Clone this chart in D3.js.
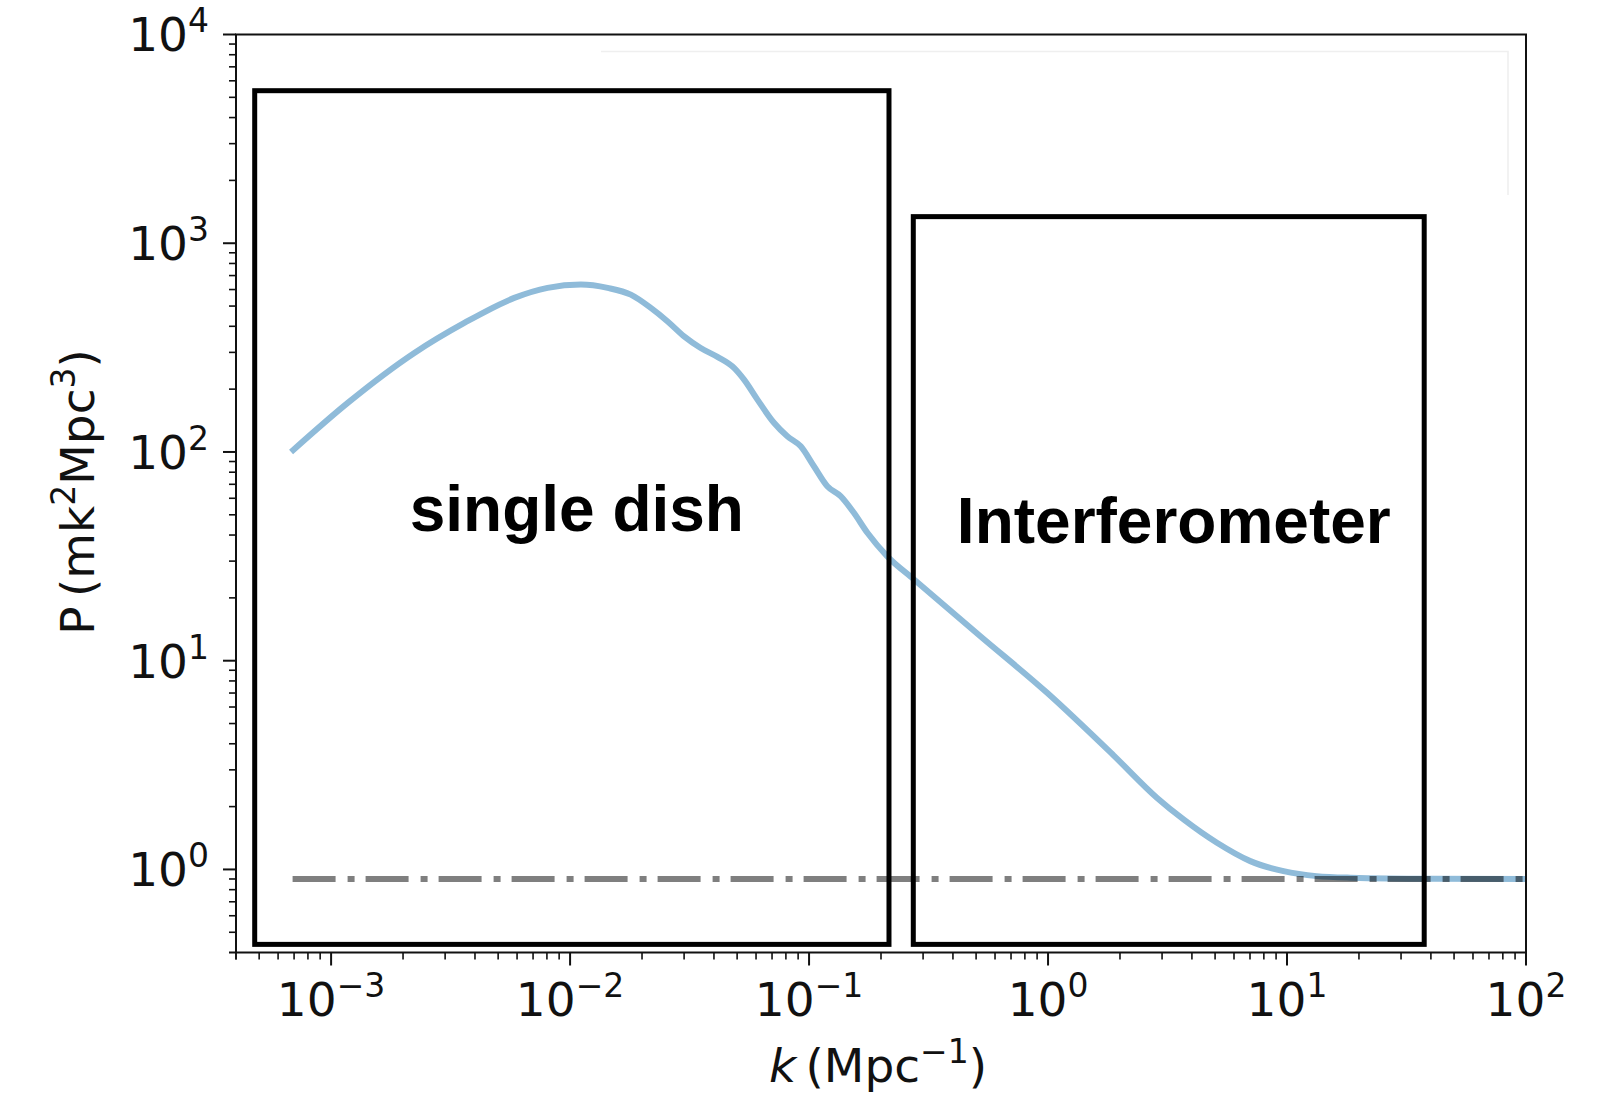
<!DOCTYPE html>
<html>
<head>
<meta charset="utf-8">
<script src="https://cdn.jsdelivr.net/npm/d3@7"></script>
<style>
  html, body { margin: 0; background: #ffffff; }
  svg { display: block; }
</style>
</head>
<body>
<svg id="chart" width="1598" height="1096"></svg>
<script>
// 21-cm power spectrum P(k) and the thermal-noise floor
const spectrumK = [6.8e-4, 1.174e-3, 2.23e-3, 3.61e-3, 5.84e-3, 8.05e-3, 0.0111, 0.01436, 0.01795,
  0.02177, 0.0256, 0.02999, 0.0352, 0.04136, 0.04853, 0.05346, 0.06081, 0.0713, 0.0811, 0.0923,
  0.1048, 0.1192, 0.1355, 0.154, 0.1754, 0.212, 0.275, 0.521, 0.991, 1.88, 2.86, 3.69, 5.09, 7.02,
  9.67, 13.3, 18.4, 40, 100];
const spectrumP = [100, 171.8, 298, 415, 547, 611, 634, 611, 567,
  490, 422, 358, 315, 285.5, 252.7, 222, 178.2, 138, 118.9, 106.4,
  85.4, 68.5, 61.4, 51.1, 41.0, 31.7, 24.5, 13.1, 7.02, 3.52, 2.20, 1.736, 1.342, 1.096,
  0.981, 0.929, 0.913, 0.902, 0.9];
const noiseK = [6.9e-4, 100];
const noiseP = [0.9, 0.9];

// axis decades (exponents of 10)
const xDecades = [-3, -2, -1, 0, 1, 2];
const yDecades = [0, 1, 2, 3, 4];

// survey regimes outlined on the plot
const regionNames = ["single dish", "Interferometer"];
const regionK = [[4.79e-4, 0.216], [0.273, 37.5]];
const regionP = [[0.4375, 5380], [0.4375, 1341]];
const regionLabelK = [0.01067, 3.36];
const regionLabelP = [42.0, 36.8];

const svg = d3.select("#chart");
const plotLeft = 236, plotRight = 1526, plotTop = 34.5, plotBottom = 952.5;

const x = d3.scaleLog().domain([4e-4, 100]).range([plotLeft, plotRight]);
const y = d3.scaleLog().domain([0.4, 1e4]).range([plotBottom, plotTop]);

const ink = "#111111";
const tickFont = "DejaVu Sans, sans-serif";
const labelSize = 47, supSize = 33;

// faint frame left over in the upper right
svg.append("path")
  .attr("d", "M601,51.5 H1508 V195")
  .attr("fill", "none")
  .attr("stroke", "#efefef")
  .attr("stroke-width", 1.6);

svg.append("clipPath").attr("id", "plotClip")
  .append("rect")
  .attr("x", plotLeft).attr("y", plotTop)
  .attr("width", plotRight - plotLeft).attr("height", plotBottom - plotTop);

const plot = svg.append("g").attr("clip-path", "url(#plotClip)");

const line = d3.line()
  .x(d => x(d[0]))
  .y(d => y(d[1]))
  .curve(d3.curveMonotoneX);

plot.append("path")
  .datum(d3.zip(spectrumK, spectrumP))
  .attr("d", line)
  .attr("fill", "none")
  .attr("stroke", "#8fbbd9")
  .attr("stroke-width", 6)
  .attr("stroke-linejoin", "round")
  .attr("stroke-linecap", "butt");

plot.append("path")
  .datum(d3.zip(noiseK, noiseP))
  .attr("d", d3.line().x(d => x(d[0])).y(d => y(d[1])))
  .attr("fill", "none")
  .attr("stroke", "#000000")
  .attr("stroke-opacity", 0.5)
  .attr("stroke-width", 6)
  .attr("stroke-dasharray", "43 12 7 11");

// regime boxes and their names
regionNames.forEach((name, i) => {
  const x0 = x(regionK[i][0]), x1 = x(regionK[i][1]);
  const y0 = y(regionP[i][1]), y1 = y(regionP[i][0]);
  svg.append("rect")
    .attr("x", x0).attr("y", y0)
    .attr("width", x1 - x0).attr("height", y1 - y0)
    .attr("fill", "none")
    .attr("stroke", "#000000")
    .attr("stroke-width", 5);
  svg.append("text")
    .attr("x", x(regionLabelK[i]))
    .attr("y", y(regionLabelP[i]))
    .attr("text-anchor", "middle")
    .attr("font-family", "Liberation Sans, Arial, sans-serif")
    .attr("font-weight", "bold")
    .attr("font-size", 64)
    .attr("fill", "#000000")
    .text(name);
});

// spines
svg.append("rect")
  .attr("x", plotLeft).attr("y", plotTop)
  .attr("width", plotRight - plotLeft).attr("height", plotBottom - plotTop)
  .attr("fill", "none")
  .attr("stroke", ink)
  .attr("stroke-width", 2);

// ticks
function minorValues(domain) {
  const out = [];
  for (let e = -5; e <= 5; e++) {
    for (let m = 2; m <= 9; m++) {
      const v = m * Math.pow(10, e);
      if (v >= domain[0] * 0.999 && v <= domain[1] * 1.001) out.push(v);
    }
  }
  out.push(domain[0]);
  return out;
}

const xMinor = minorValues(x.domain());
const yMinor = minorValues(y.domain());

svg.append("g").selectAll("line").data(xMinor).join("line")
  .attr("x1", d => x(d)).attr("x2", d => x(d))
  .attr("y1", plotBottom).attr("y2", plotBottom + 7)
  .attr("stroke", ink).attr("stroke-width", 1.6);
svg.append("g").selectAll("line").data(xDecades).join("line")
  .attr("x1", d => x(Math.pow(10, d))).attr("x2", d => x(Math.pow(10, d)))
  .attr("y1", plotBottom).attr("y2", plotBottom + 13)
  .attr("stroke", ink).attr("stroke-width", 2);

svg.append("g").selectAll("line").data(yMinor).join("line")
  .attr("y1", d => y(d)).attr("y2", d => y(d))
  .attr("x1", plotLeft).attr("x2", plotLeft - 7)
  .attr("stroke", ink).attr("stroke-width", 1.6);
svg.append("g").selectAll("line").data(yDecades).join("line")
  .attr("y1", d => y(Math.pow(10, d))).attr("y2", d => y(Math.pow(10, d)))
  .attr("x1", plotLeft).attr("x2", plotLeft - 13)
  .attr("stroke", ink).attr("stroke-width", 2);

function powerLabel(sel, e) {
  sel.append("tspan").text("10");
  sel.append("tspan")
    .attr("font-size", supSize)
    .attr("dy", -19)
    .text(e < 0 ? "\u2212" + (-e) : String(e));
}

svg.append("g").selectAll("text").data(xDecades).join("text")
  .attr("x", d => x(Math.pow(10, d)))
  .attr("y", 1016)
  .attr("text-anchor", "middle")
  .attr("font-family", tickFont)
  .attr("font-size", labelSize)
  .attr("fill", ink)
  .each(function (d) { powerLabel(d3.select(this), d); });

svg.append("g").selectAll("text").data(yDecades).join("text")
  .attr("x", 209)
  .attr("y", d => y(Math.pow(10, d)) + 16.8)
  .attr("text-anchor", "end")
  .attr("font-family", tickFont)
  .attr("font-size", labelSize)
  .attr("fill", ink)
  .each(function (d) { powerLabel(d3.select(this), d); });

// axis titles
const xTitle = svg.append("text")
  .attr("x", 878)
  .attr("y", 1082)
  .attr("text-anchor", "middle")
  .attr("font-family", tickFont)
  .attr("font-size", labelSize)
  .attr("fill", ink);
xTitle.append("tspan").attr("font-style", "italic").text("k");
xTitle.append("tspan").text("\u2009(Mpc");
xTitle.append("tspan").attr("font-size", supSize).attr("dy", -19).text("\u22121");
xTitle.append("tspan").attr("dy", 19).text(")");

const yTitle = svg.append("text")
  .attr("transform", "translate(94,492) rotate(-90)")
  .attr("text-anchor", "middle")
  .attr("font-family", tickFont)
  .attr("font-size", labelSize)
  .attr("fill", ink);
yTitle.append("tspan").text("P\u2009(mk");
yTitle.append("tspan").attr("font-size", supSize).attr("dy", -19).text("2");
yTitle.append("tspan").attr("dy", 19).text("Mpc");
yTitle.append("tspan").attr("font-size", supSize).attr("dy", -19).text("3");
yTitle.append("tspan").attr("dy", 19).text(")");
</script>
</body>
</html>
